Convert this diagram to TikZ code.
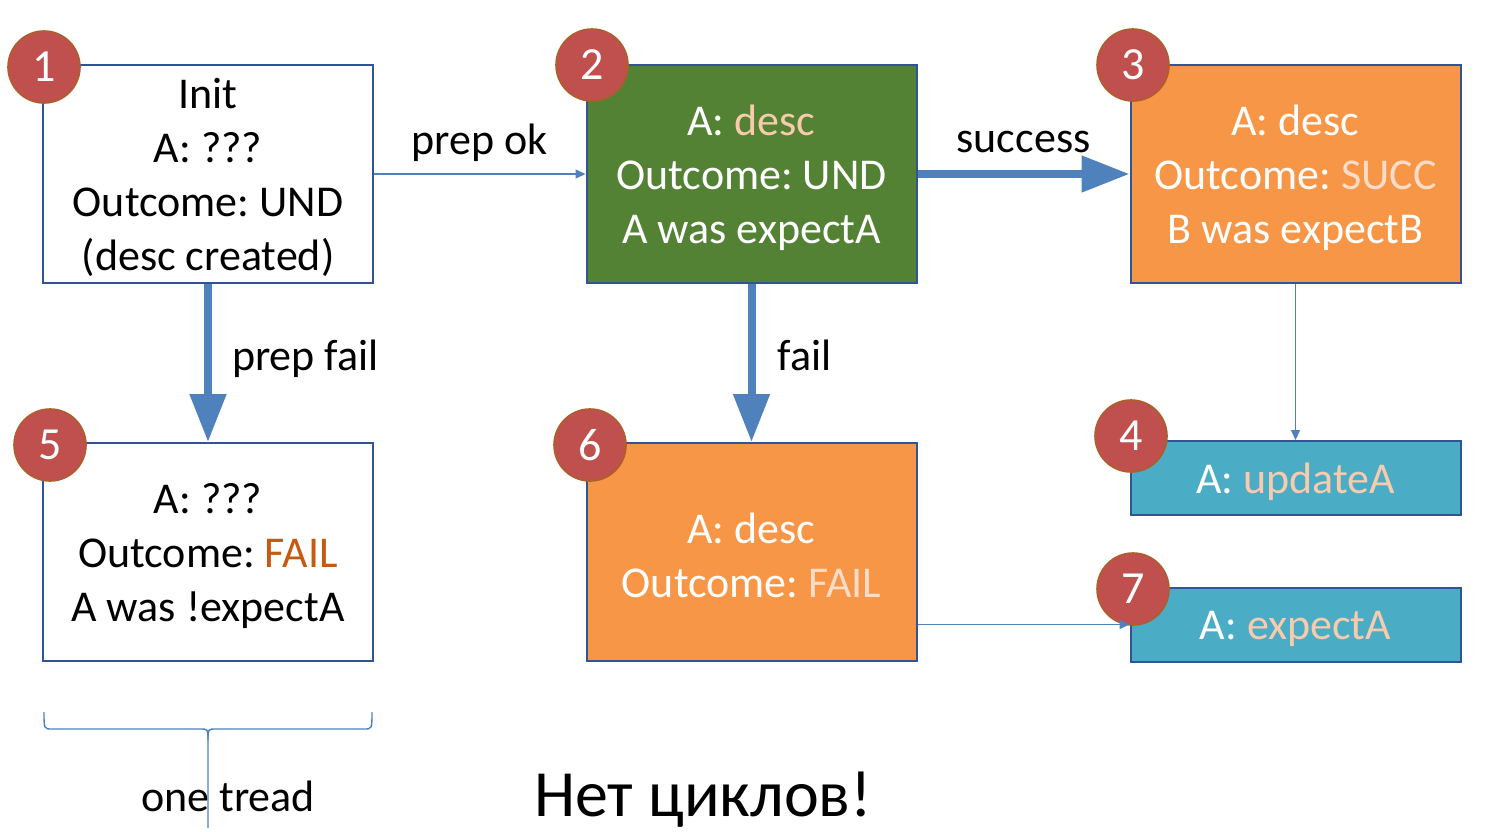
\documentclass[tikz,border=0pt]{standalone}
\usepackage{fontspec}
\setmainfont{Carlito}
\usetikzlibrary{arrows.meta,shapes}
\frenchspacing
\definecolor{boxline}{HTML}{2F5597}
\definecolor{arrowblue}{HTML}{4F81BD}
\definecolor{stepgreen}{HTML}{548235}
\definecolor{steporange}{HTML}{F79646}
\definecolor{stepteal}{HTML}{4BACC6}
\definecolor{badgered}{HTML}{C0504D}
\definecolor{badgeline}{HTML}{AE5E2A}
\definecolor{peach}{HTML}{F8CBAD}
\definecolor{palepeach}{HTML}{FBDCC6}
\definecolor{failred}{HTML}{C55A11}
\newcommand{\topstrut}{\rule{0pt}{19pt}}
\tikzstyle{state}=[draw=boxline,line width=1pt,minimum width=165pt,minimum height=109pt,align=center,inner sep=0pt,font=\fontsize{22}{27}\selectfont]
\tikzstyle{small state}=[state,minimum height=37pt]
\tikzstyle{badge}=[circle,fill=badgered,draw=badgeline,line width=0.8pt,minimum size=36pt,inner sep=0pt,text=white,font=\fontsize{23}{27}\selectfont]
\tikzstyle{thin edge}=[draw=arrowblue,line width=0.7pt,-{Triangle[length=5pt,width=4.5pt]}]
\tikzstyle{thick edge}=[draw=arrowblue,line width=4pt,-{Triangle[length=24pt,width=17.5pt]}]
\tikzstyle{edgetext}=[inner sep=0pt,text height=15pt,text depth=4.5pt,font=\fontsize{22}{27}\selectfont]

\begin{document}
\begin{tikzpicture}[x=0.5pt,y=-0.5pt]
    \useasboundingbox (0,0) rectangle (1487,831);
    % the states
    \node[state,fill=white] (init) at (208,174) {\topstrut Init\\A: ???\\Outcome: UND\\(desc created)};
    \node[state,fill=stepgreen,text=white] (desc) at (751.5,174) {\topstrut A: \textcolor{peach}{desc}\\Outcome: UND\\A was expectA};
    \node[state,fill=steporange,text=white] (succ) at (1295.5,174) {\topstrut A: desc\\Outcome: \textcolor{palepeach}{SUCC}\\B was expectB};
    \node[state,fill=white] (prepfail) at (208,552) {\topstrut A: ???\\Outcome: \textcolor{failred}{FAIL}\\A was !expectA};
    \node[state,fill=steporange,text=white] (fail) at (751.5,552) {\topstrut A: desc\\Outcome: \textcolor{palepeach}{FAIL}};
    \node[small state,fill=stepteal,text=white] (update) at (1295.5,478) {\topstrut A: \textcolor{peach}{updateA}};
    \node[small state,fill=stepteal,text=white] (expect) at (1295.5,624.5) {\topstrut A: \textcolor{peach}{expectA}};
    % numbered badges
    \foreach \pos/\name in {{(44,67)/1}, {(592,65)/2}, {(1133,65)/3}, {(1131,436)/4},
                            {(50,445)/5}, {(590,445)/6}, {(1133,589)/7}}
        \node[badge] (b\name) at \pos {\name};
    % transitions
    \path[thin edge] (init) -- node[edgetext,above=5pt] {prep ok} (desc);
    \path[thick edge] (desc) -- node[edgetext,above=4.5pt] {success} (succ);
    \path[thick edge] (init) -- node[edgetext,right=10pt,yshift=1.5pt] {prep fail} (prepfail);
    \path[thick edge] (desc) -- node[edgetext,right=11pt,yshift=1.5pt] {fail} (fail);
    \path[thin edge] (succ) -- (update);
    \path[thin edge] (fail.east |- expect.west) -- (expect.west);
    % brace under the first column
    \node[edgetext] (tread) at (228,801) {one tread};
    \draw[arrowblue,line width=0.7pt] (44,712) .. controls (44,729) .. (52,729) -- (200,729)
        .. controls (208,729) .. (208,740) -- (208,828);
    \draw[arrowblue,line width=0.7pt] (208,740) .. controls (208,729) .. (216,729) -- (364,729)
        .. controls (372,729) .. (372,712);
    \node[font=\fontsize{33}{38}\selectfont] (nocycles) at (703,800) {Нет циклов!};
\end{tikzpicture}
\end{document}
